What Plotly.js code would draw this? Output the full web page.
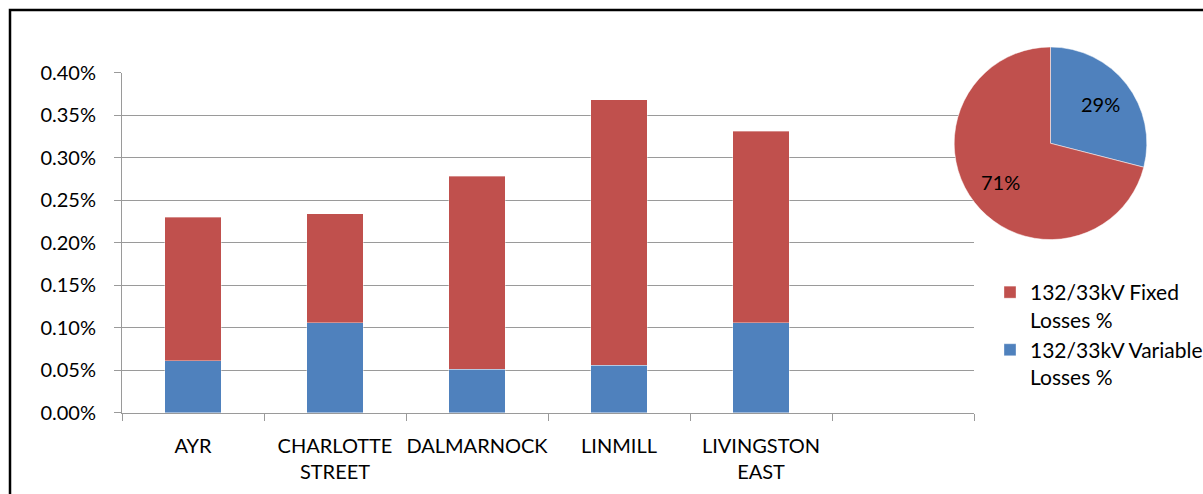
<!DOCTYPE html>
<html>
<head>
<meta charset="utf-8">
<script src="https://cdn.plot.ly/plotly-3.0.1.min.js"></script>
<style>
  html, body { margin: 0; padding: 0; background: #fff; }
  #chart { width: 1203px; height: 494px; }
</style>
</head>
<body>
<div id="chart"></div>
<script>
// Grid supply points and their 132/33kV losses (fraction of energy)
const stations = ['AYR', 'CHARLOTTE<br>STREET', 'DALMARNOCK', 'LINMILL', 'LIVINGSTON<br>EAST'];
const fixedLosses = [0.00169, 0.00128, 0.00227, 0.00312, 0.00225];
const variableLosses = [0.00061, 0.00106, 0.00051, 0.00056, 0.00106];

// Overall split of losses
const shareLabels = ['132/33kV Variable Losses %', '132/33kV Fixed Losses %'];
const shareValues = [29, 71];

// Y axis ticks
const yTicks = [0, 0.0005, 0.001, 0.0015, 0.002, 0.0025, 0.003, 0.0035, 0.004];

const seriesNames = ['132/33kV Fixed<br>Losses %', '132/33kV Variable<br>Losses %'];

const RED = '#C0504D';
const BLUE = '#4F81BD';
const GRID = '#9a9a9a';
const FONT = 'Lato, "Open Sans", sans-serif';

const W = 1203, H = 494;
const slotPos = stations.map((_, i) => i);
// one spare slot on the right, as in the original worksheet chart
const nSlots = stations.length + 1;
const boundaries = [];
for (let i = 0; i <= nSlots; i++) boundaries.push(i - 0.5);

// pie placement (pixels) and its domain
const pieCx = 1050.5, pieCy = 143.3, pieR = 96.3;
const pieDomain = {
  x: [(pieCx - pieR) / W, (pieCx + pieR) / W],
  y: [1 - (pieCy + pieR) / H, 1 - (pieCy - pieR) / H]
};

// percentage labels placed at each slice's mid-angle (clockwise from 12 o'clock)
const shareTotal = shareValues.reduce((a, b) => a + b, 0);
const pieLabels = [];
let acc = 0;
shareValues.forEach(v => {
  const mid = (acc + v / 2) / shareTotal * 2 * Math.PI;
  acc += v;
  const rr = pieR * 0.66;
  pieLabels.push({
    xref: 'paper', yref: 'paper',
    x: (pieCx + rr * Math.sin(mid)) / W,
    y: 1 - (pieCy - rr * Math.cos(mid)) / H,
    text: Math.round(v / shareTotal * 100) + '%',
    showarrow: false, xanchor: 'center', yanchor: 'middle',
    font: { family: FONT, size: 20, color: '#000' }
  });
});

const traces = [
  {
    type: 'bar', name: seriesNames[1], x: slotPos, y: variableLosses,
    marker: { color: BLUE, line: { color: 'rgba(255,255,255,0.35)', width: 1 } },
    width: 0.4, hoverinfo: 'skip'
  },
  {
    type: 'bar', name: seriesNames[0], x: slotPos, y: fixedLosses,
    marker: { color: RED, line: { color: 'rgba(255,255,255,0.35)', width: 1 } },
    width: 0.4, hoverinfo: 'skip'
  },
  {
    type: 'pie', labels: shareLabels, values: shareValues,
    marker: { colors: [BLUE, RED], line: { color: '#ffffff', width: 0.5 } },
    sort: false, direction: 'clockwise', rotation: 0,
    textinfo: 'none',
    showlegend: false, hoverinfo: 'skip',
    domain: pieDomain
  },
  // invisible carrier for the category labels on the second x axis
  {
    type: 'scatter', x: slotPos, y: slotPos.map(() => 0), xaxis: 'x2',
    mode: 'markers', marker: { opacity: 0 }, showlegend: false, hoverinfo: 'skip'
  }
];

const xDomain = [122 / W, 974 / W];
const layout = {
  width: W, height: H,
  margin: { l: 0, r: 0, t: 0, b: 0, pad: 0, autoexpand: false },
  paper_bgcolor: '#fff', plot_bgcolor: '#fff',
  barmode: 'stack',
  bargap: 0.6,
  font: { family: FONT, size: 20, color: '#000' },
  xaxis: {
    domain: xDomain,
    range: [-0.5, nSlots - 0.5],
    tickvals: boundaries, ticktext: boundaries.map(() => ''),
    ticks: 'outside', ticklen: 7, tickcolor: GRID, tickwidth: 1,
    showgrid: false, zeroline: false,
    showline: true, linecolor: GRID, linewidth: 1,
    fixedrange: true, automargin: false
  },
  xaxis2: {
    domain: xDomain, overlaying: 'x', anchor: 'y',
    range: [-0.5, nSlots - 0.5],
    tickvals: slotPos, ticktext: stations,
    ticks: '', showgrid: false, zeroline: false, showline: false,
    ticklabelstandoff: 19,
    tickfont: { family: FONT, size: 20, color: '#000' },
    fixedrange: true, automargin: false
  },
  yaxis: {
    domain: [1 - 412.7 / H, 1 - 72.5 / H],
    range: [0, 0.004],
    tickvals: yTicks, tickformat: '.2%',
    ticks: 'outside', ticklen: 7, tickcolor: GRID, tickwidth: 1,
    ticklabelstandoff: 14,
    tickfont: { family: FONT, size: 20, color: '#000' },
    showgrid: true, gridcolor: GRID, gridwidth: 1,
    zeroline: false, showline: true, linecolor: GRID, linewidth: 1,
    fixedrange: true, automargin: false
  },
  legend: {
    x: 990 / W, y: 1 - 272 / H, xanchor: 'left', yanchor: 'top',
    traceorder: 'reversed', valign: 'top',
    font: { family: FONT, size: 21, color: '#000' },
    bgcolor: 'rgba(0,0,0,0)', borderwidth: 0, tracegroupgap: 0
  },
  annotations: pieLabels,
  shapes: [
    {
      type: 'rect', xref: 'paper', yref: 'paper',
      x0: 10 / W, x1: 1.02, y0: -0.02, y1: 1 - 10 / H,
      line: { color: '#000', width: 2.5 }, fillcolor: 'rgba(0,0,0,0)', layer: 'above'
    }
  ],
  showlegend: true
};

Plotly.newPlot('chart', traces, layout, { displayModeBar: false, staticPlot: true });
</script>
</body>
</html>
